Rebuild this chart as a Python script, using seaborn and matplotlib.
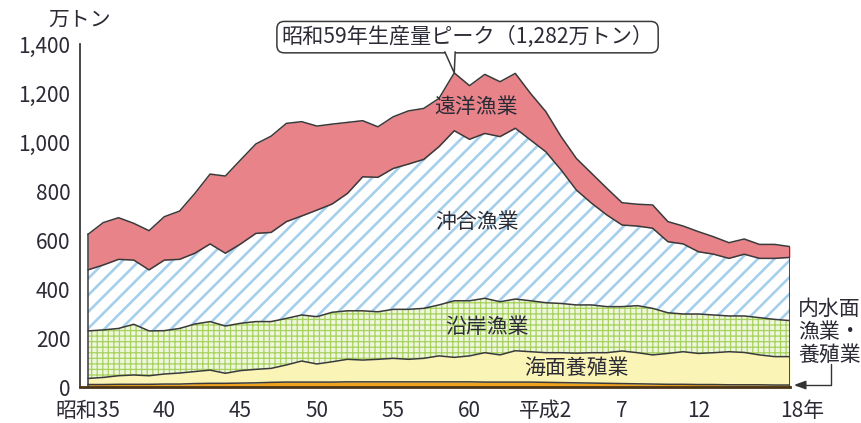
import numpy as np
import pandas as pd
import matplotlib
matplotlib.use("Agg")
import matplotlib.pyplot as plt
import seaborn as sns
from matplotlib.patches import Polygon

# 漁業・養殖業生産量（万トン）
years = list(range(1960, 2007))

inland = [10, 10, 11, 11, 11, 12, 12, 14, 15, 15,
          16, 17, 19, 20, 20, 20, 20, 21, 21, 21,
          21, 21, 21, 21, 21, 21, 20, 20, 20, 20,
          19, 18, 17, 16, 15, 14, 13, 12, 11, 11,
          10, 10, 9, 9, 9, 8, 8]
aquaculture = [25, 29, 35, 38, 35, 41, 45, 49, 54, 41,
               51, 55, 57, 70, 86, 74, 83, 92, 89, 92,
               96, 92, 96, 106, 100, 106, 120, 111, 128, 124,
               121, 122, 121, 124, 125, 133, 127, 119, 126, 133,
               127, 130, 135, 132, 122, 116, 116]
coastal = [194, 194, 193, 207, 183, 177, 182, 194, 198, 193,
           193, 195, 191, 190, 188, 193, 202, 198, 201, 194,
           200, 204, 204, 208, 231, 225, 222, 217, 211, 208,
           204, 201, 197, 195, 188, 181, 192, 190, 166, 154,
           161, 154, 146, 149, 152, 152, 147]
offshore = [249, 265, 282, 262, 249, 288, 282, 289, 317, 297,
            324, 360, 364, 395, 404, 435, 442, 479, 547, 549,
            575, 593, 608, 646, 694, 659, 673, 674, 697, 656,
            616, 545, 469, 415, 374, 333, 325, 327, 290, 286,
            254, 248, 235, 252, 242, 249, 258]
distant = [145, 173, 170, 150, 160, 177, 197, 244, 285, 315,
           343, 365, 393, 401, 385, 343, 326, 290, 229, 206,
           211, 217, 208, 197, 236, 219, 241, 224, 224, 190,
           164, 136, 129, 122, 109, 91, 89, 95, 82, 73,
           82, 71, 64, 62, 57, 57, 44]

layer_names = ["内水面漁業・養殖業", "海面養殖業", "沿岸漁業", "沖合漁業", "遠洋漁業"]
area_labels = ["海面養殖業", "沿岸漁業", "沖合漁業", "遠洋漁業"]
x_tick_labels = {1960: "昭和35", 1965: "40", 1970: "45", 1975: "50", 1980: "55",
                 1985: "60", 1990: "平成2", 1995: "7", 2000: "12"}
last_year_label = "18年"
y_ticks = [0, 200, 400, 600, 800, 1000, 1200, 1400]

sns.set_theme(style="white")
plt.rcParams["font.family"] = ["Noto Sans CJK JP", "DejaVu Sans"]
plt.rcParams["hatch.linewidth"] = 2.0

TEXT = "#2b2b36"
EDGE = "#3a3a3a"

layers = [inland, aquaculture, coastal, offshore, distant]
stack = np.vstack(layers)
tops = np.cumsum(stack, axis=0)
bottoms = np.vstack([np.zeros(len(years)), tops[:-1]])
total = tops[-1]

fig = plt.figure(figsize=(8.61, 4.23), dpi=100)
ax = fig.add_axes([80 / 861, 36 / 423, 710 / 861, 343 / 423])

styles = [
    dict(facecolor="#f0a31e", edgecolor="#f0a31e", hatch=None, hlw=1.0),
    dict(facecolor="#faf4b6", edgecolor="#faf4b6", hatch=None, hlw=1.0),
    dict(facecolor="#eef6dc", edgecolor="#a8d25e", hatch="+++", hlw=0.9),
    dict(facecolor="white", edgecolor="#a6cfec", hatch="//", hlw=1.9),
    dict(facecolor="#e9838a", edgecolor="#e9838a", hatch=None, hlw=1.0),
]
for lo, hi, st in zip(bottoms, tops, styles):
    with plt.rc_context({"hatch.linewidth": st["hlw"]}):
        coll = ax.fill_between(years, lo, hi, facecolor=st["facecolor"],
                               edgecolor=st["edgecolor"], hatch=st["hatch"],
                               linewidth=0, zorder=1)
    if hasattr(coll, "set_hatch_linewidth"):
        coll.set_hatch_linewidth(st["hlw"])

# layer boundaries
df = pd.DataFrame({
    "year": np.tile(years, len(layer_names)),
    "top": tops.ravel(),
    "layer": np.repeat(layer_names, len(years)),
})
sns.lineplot(data=df, x="year", y="top", units="layer", estimator=None,
             color=EDGE, linewidth=1.1, ax=ax, legend=False, zorder=3)
ax.plot([years[0], years[0]], [0, total[0]], color=EDGE, lw=1.1, zorder=3)
ax.plot([years[-1], years[-1]], [0, total[-1]], color=EDGE, lw=1.3, zorder=3)

ax.set_xlim(1959.476, 2006)
ax.set_ylim(0, 1400)
ax.set_xlabel("")
ax.set_ylabel("")

ax.set_yticks(y_ticks)
ax.set_yticklabels([f"{v:,}" for v in y_ticks])
ax.set_xticks(years)
ax.set_xticklabels([x_tick_labels.get(y, "") for y in years])
ax.tick_params(axis="y", direction="in", length=4, width=1.2, pad=7,
               labelsize=15, color=EDGE, labelcolor=TEXT)
ax.tick_params(axis="x", direction="in", length=5.5, width=1.1, pad=9,
               labelsize=15, color="#1a1a1a", labelcolor=TEXT)
ax.xaxis.set_zorder(5)
ax.yaxis.set_zorder(5)
ax.annotate(last_year_label, xy=(years[-1], 0), xycoords=("data", "axes fraction"),
            xytext=(9, -9), textcoords="offset points", ha="center", va="top",
            fontsize=15, color=TEXT, annotation_clip=False)

for side in ["top", "right"]:
    ax.spines[side].set_visible(False)
ax.spines["left"].set_color(EDGE)
ax.spines["left"].set_linewidth(1.3)
ax.spines["bottom"].set_color("#4a3418")
ax.spines["bottom"].set_linewidth(2.0)
ax.spines["bottom"].set_zorder(4)

# unit label
fig.text(80 / 861, 1 - 20 / 423, "万トン", ha="center", va="center",
         fontsize=15, color=TEXT)

# labels on the areas
label_pos = [(1992.0, 78), (1986.15, 245), (1985.5, 673), (1985.45, 1143)]
for name, (lx, ly) in zip(area_labels, label_pos):
    ax.text(lx, ly, name, ha="center", va="center", fontsize=15,
            color=TEXT, zorder=6)

# peak callout
peak_i = int(np.argmax(total))
peak_year, peak_val = years[peak_i], int(total[peak_i])
showa = peak_year - 1925
ax.text(1984.87, 1428, f"昭和{showa}年生産量ピーク（{peak_val:,}万トン）",
        ha="center", va="center", fontsize=15.2, color=TEXT, zorder=6,
        bbox=dict(boxstyle="round,pad=0.22,rounding_size=0.35",
                  fc="white", ec=EDGE, lw=1.1), clip_on=False)
tail_l, tail_r, tail_y = peak_year - 0.62, peak_year + 0.06, 1368
ax.add_patch(Polygon([(tail_l, tail_y + 5), (tail_r, tail_y + 5),
                      (peak_year, peak_val)], closed=True, fc="white",
                     ec="none", zorder=7, clip_on=False))
ax.plot([tail_l, peak_year, tail_r], [tail_y, peak_val, tail_y],
        color=EDGE, lw=1.1, zorder=8, clip_on=False)

# inland fisheries label with pointer
fig.text(798 / 861, 1 - 332 / 423, "内水面\n漁業・\n養殖業", ha="left",
         va="center", fontsize=15, color=TEXT, linespacing=1.05)
ax.annotate("", xy=(years[-1] + 0.25, inland[-1]), xytext=(2008.69, 94),
            arrowprops=dict(arrowstyle="-|>,head_length=0.6,head_width=0.22",
                            connectionstyle="angle,angleA=90,angleB=0,rad=0",
                            color="#333333", lw=1.0, shrinkA=0, shrinkB=0),
            annotation_clip=False)

fig.savefig("out.png", dpi=100)
